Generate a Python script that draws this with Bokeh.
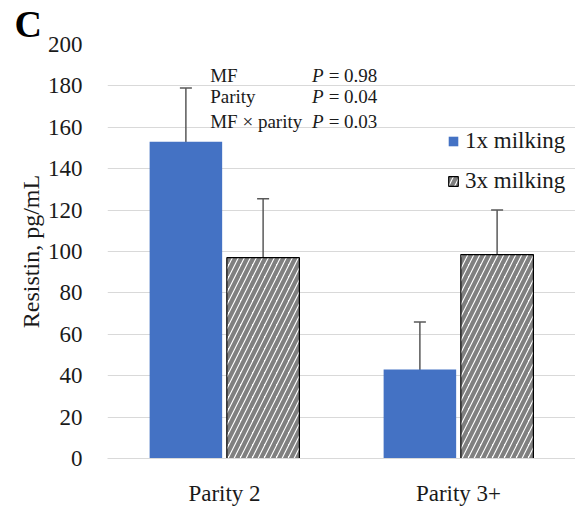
from bokeh.plotting import figure
from bokeh.models import (ColumnDataSource, FactorRange, Range1d, Whisker, TeeHead,
                          Legend, LegendItem, Label, FixedTicker, Title)
from bokeh.transform import dodge
from bokeh.embed import file_html
from bokeh.resources import INLINE

categories = ["Parity 2", "Parity 3+"]
series_names = ["1x milking", "3x milking"]
milk1_mean = [153, 43]
milk1_se = [26, 23]
milk3_mean = [97, 98.5]
milk3_se = [28.5, 21.5]
y_ticks = [0, 20, 40, 60, 80, 100, 120, 140, 160, 180, 200]
stats_terms = ["MF", "Parity", "MF \u00d7 parity"]
stats_p = ["= 0.98", "= 0.04", "= 0.03"]

FONT = "Liberation Serif"
BLUE = "#4472C4"
GRAY = "#808080"
ERR = "#595959"
TXT = "#1a1a1a"

src = ColumnDataSource(dict(
    cat=categories,
    m1=milk1_mean, m1_lo=[m - e for m, e in zip(milk1_mean, milk1_se)],
    m1_hi=[m + e for m, e in zip(milk1_mean, milk1_se)],
    m3=milk3_mean, m3_lo=[m - e for m, e in zip(milk3_mean, milk3_se)],
    m3_hi=[m + e for m, e in zip(milk3_mean, milk3_se)],
))

p = figure(width=575, height=508, output_backend="svg", toolbar_location=None,
           x_range=FactorRange(factors=categories, range_padding=0),
           y_range=Range1d(0, 200),
           min_border_left=107, min_border_right=0, min_border_top=44, min_border_bottom=47)
p.outline_line_color = None
p.background_fill_color = "white"
p.border_fill_color = "white"

p.title = Title(text="C", text_font=FONT, text_font_size="38px", text_font_style="bold",
                text_color="black", align="left", offset=-93, standoff=0)

off = 0.165
bw = 0.31
r1 = p.vbar(x=dodge("cat", -off, range=p.x_range), top="m1", width=bw, source=src,
            fill_color=BLUE, line_color=None)
r3 = p.vbar(x=dodge("cat", off, range=p.x_range), top="m3", width=bw, source=src,
            fill_color="white", line_color="black", line_width=1.2,
            hatch_pattern="/", hatch_color=GRAY, hatch_weight=4.2, hatch_scale=12)

for col, o in (("m1", -off), ("m3", off)):
    w = Whisker(base=dodge("cat", o, range=p.x_range), upper=col + "_hi", lower=col + "_lo",
                source=src, line_color=ERR, line_width=1.5,
                upper_head=TeeHead(size=12, line_color=ERR, line_width=1.5),
                lower_head=TeeHead(size=12, line_color=ERR, line_width=1.5))
    p.add_layout(w)

# axes
p.xgrid.grid_line_color = None
p.ygrid.grid_line_color = "#d9d9d9"
p.ygrid.grid_line_width = 1.2
p.yaxis.ticker = FixedTicker(ticks=y_ticks)
p.yaxis.axis_line_color = None
p.yaxis.major_tick_line_color = None
p.yaxis.minor_tick_line_color = None
p.yaxis.major_label_text_font = FONT
p.yaxis.major_label_text_font_size = "23px"
p.yaxis.major_label_text_color = TXT
p.yaxis.major_label_standoff = 19
p.yaxis.axis_label = "Resistin, pg/mL"
p.yaxis.axis_label_text_font = FONT
p.yaxis.axis_label_text_font_style = "normal"
p.yaxis.axis_label_text_font_size = "24px"
p.yaxis.axis_label_text_color = TXT
p.yaxis.axis_label_standoff = 1

p.xaxis.axis_line_color = "#d9d9d9"
p.xaxis.major_tick_line_color = None
p.xaxis.minor_tick_line_color = None
p.xaxis.major_label_text_font = FONT
p.xaxis.major_label_text_font_size = "23px"
p.xaxis.major_label_text_color = TXT
p.xaxis.major_label_standoff = 16

legend = Legend(items=[LegendItem(label=series_names[0], renderers=[r1]),
                       LegendItem(label=series_names[1], renderers=[r3])],
                location=(340, 264), orientation="vertical",
                border_line_color=None, background_fill_alpha=0,
                padding=0, margin=0, spacing=14,
                glyph_width=12, glyph_height=12, label_standoff=6,
                label_text_font=FONT, label_text_font_size="23px",
                label_text_color=TXT)
p.add_layout(legend)

# statistics annotation
ys = [185, 174.8, 163]
for t, pv, y in zip(stats_terms, stats_p, ys):
    p.add_layout(Label(x=0.439, y=y, text=t, text_font=FONT, text_font_size="19px",
                       text_color=TXT, text_baseline="alphabetic"))
    p.add_layout(Label(x=0.874, y=y, text="P", text_font=FONT, text_font_size="19px",
                       text_font_style="italic", text_color=TXT, text_baseline="alphabetic"))
    p.add_layout(Label(x=0.945, y=y, text=pv, text_font=FONT, text_font_size="19px",
                       text_color=TXT, text_baseline="alphabetic"))

open("out.html", "w").write(file_html(p, INLINE))
